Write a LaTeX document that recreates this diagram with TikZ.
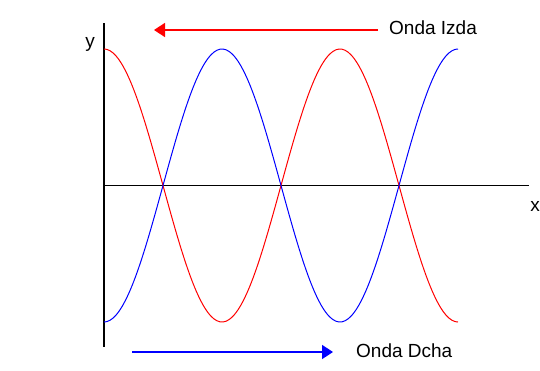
\documentclass[tikz,border=0pt]{standalone}
\usepackage{fontspec}
\setmainfont{Liberation Sans}
\usetikzlibrary{arrows.meta}
\begin{document}
\begin{tikzpicture}[x=1pt,y=-1pt,
  axis/.style={black,line width=1.4pt},
  wave/.style={line width=1pt},
  txt/.style={font=\fontsize{19}{22}\selectfont,inner sep=0pt},
  lbl/.style={txt,anchor=west},
  dirarrow/.style={line width=1.6pt,-{Triangle[length=11pt,width=14pt]}}]
\useasboundingbox (0,0) rectangle (540,370);
\fill[white] (0,0) rectangle (540,370);
% axes
\coordinate (ytop) at (104,23);
\coordinate (ybot) at (104,347);
\coordinate (xl) at (104,185.5);
\coordinate (xr) at (529,185.5);
\draw[axis] (ytop) -- (ybot);
\draw[axis] (xl) -- (xr);
\node[txt] (ylab) at (90,44) {y};
\node[txt] (xlab) at (535,206) {x};
% waves
\draw[wave,red] plot[smooth,domain=0:354,samples=120] ({104+\x},{185.5-136.5*cos(1.525424*\x)});
\draw[wave,blue] plot[smooth,domain=0:354,samples=120] ({104+\x},{185.5+136.5*cos(1.525424*\x)});
% direction arrows
\coordinate (ta) at (378,30);
\coordinate (tb) at (154,30);
\draw[dirarrow,red] (ta) -- (tb);
\node[lbl] (izda) at (389,28) {Onda Izda};
\coordinate (ba) at (132,352);
\coordinate (bb) at (333,352);
\draw[dirarrow,blue] (ba) -- (bb);
\node[lbl] (dcha) at (356,351) {Onda Dcha};
\end{tikzpicture}
\end{document}
